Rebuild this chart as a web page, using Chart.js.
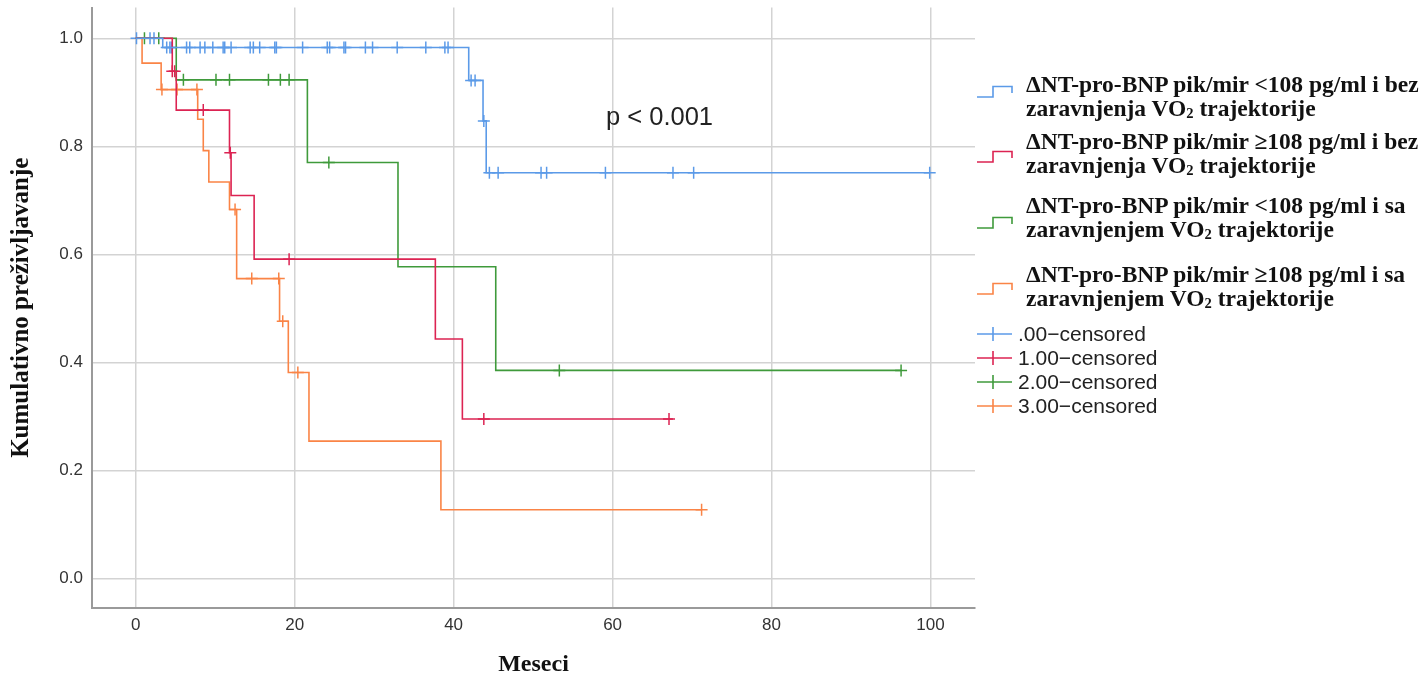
<!DOCTYPE html>
<html>
<head>
<meta charset="utf-8">
<script src="https://cdn.jsdelivr.net/npm/chart.js@4.4.0/dist/chart.umd.min.js"></script>
<style>
body { margin: 0; background: #fff; }
#wrap { position: relative; width: 1421px; height: 679px; }
.lg { position: absolute; left: 1026px; font-family: "Liberation Serif", "Times New Roman", serif; font-weight: bold; font-size: 23.5px; line-height: 24px; color: #111; white-space: nowrap; }
.cs { position: absolute; left: 1018px; font-family: "Liberation Sans", Arial, sans-serif; font-size: 21px; line-height: 24px; color: #222; white-space: nowrap; }
.ic { position: absolute; left: 976px; }
.sub { font-size: 0.62em; position: relative; top: 0.15em; }
#pval { position: absolute; left: 606px; top: 102px; font-family: "Liberation Sans", Arial, sans-serif; font-size: 25.5px; color: #222; }
</style>
</head>
<body>
<div id="wrap">
  <canvas id="kmChart"></canvas>
  <div id="pval">p &lt; 0.001</div>
  <div id="legend"></div>
</div>
<script>
// grupe i boje
var groupNames = [
    ['ΔNT-pro-BNP pik/mir <108 pg/ml i bez', 'zaravnjenja VO2 trajektorije'],
    ['ΔNT-pro-BNP pik/mir ≥108 pg/ml i bez', 'zaravnjenja VO2 trajektorije'],
    ['ΔNT-pro-BNP pik/mir <108 pg/ml i sa', 'zaravnjenjem VO2 trajektorije'],
    ['ΔNT-pro-BNP pik/mir ≥108 pg/ml i sa', 'zaravnjenjem VO2 trajektorije']
];
var censorNames = ['.00\u2212censored', '1.00\u2212censored', '2.00\u2212censored', '3.00\u2212censored'];
var colors = ['#5b9ae8', '#dc2352', '#3f9a3b', '#fa8446'];

// vremena dogadjaja (meseci) i kumulativno prezivljavanje posle njih
var times0 = [0, 3.4, 41.9, 43.7, 44.1, 99.9];
var surv0  = [1.0, 0.983, 0.922, 0.847, 0.751, 0.751];
var times1 = [0, 4.6, 5.1, 11.8, 12.0, 14.9, 37.7, 41.1, 67.6];
var surv1  = [1.0, 0.939, 0.867, 0.788, 0.709, 0.591, 0.443, 0.295, 0.295];
var times2 = [0, 5.1, 21.6, 33.0, 45.3, 96.3];
var surv2  = [1.0, 0.923, 0.770, 0.577, 0.385, 0.385];
var times3 = [0, 0.8, 3.2, 7.8, 8.5, 9.2, 11.8, 12.7, 18.1, 19.2, 21.8, 38.4, 71.2];
var surv3  = [1.0, 0.954, 0.905, 0.850, 0.792, 0.734, 0.683, 0.555, 0.476, 0.381, 0.254, 0.127, 0.127];

// cenzurisani
var cens0 = [0.1, 1.8, 2.3, 3.9, 4.3, 4.5, 6.4, 6.8, 8.1, 8.7, 9.7, 11.0, 11.2, 12.0, 14.4, 14.8, 15.6,
             17.5, 17.7, 21.0, 24.1, 24.4, 26.2, 26.4, 28.9, 29.8, 32.9, 36.5, 38.9, 39.3,
             42.2, 42.7, 43.8, 44.5, 45.6, 51.0, 51.7, 59.1, 67.6, 70.2, 99.9];
var cens1 = [4.6, 4.9, 8.5, 11.9, 19.3, 43.8, 67.1];
var cens2 = [1.1, 2.9, 6.0, 10.1, 11.8, 16.7, 18.2, 19.3, 24.3, 53.3, 96.3];
var cens3 = [3.3, 5.2, 7.7, 12.5, 14.6, 18.0, 18.5, 20.4, 71.2];

var xTicks = [0, 20, 40, 60, 80, 100];
var yTicks = [0, 0.2, 0.4, 0.6, 0.8, 1.0];

var allTimes = [times0, times1, times2, times3];
var allSurv = [surv0, surv1, surv2, surv3];
var allCens = [cens0, cens1, cens2, cens3];

function survAt(times, surv, t) {
    var s = surv[0];
    for (var i = 0; i < times.length; i++) {
        if (times[i] <= t) s = surv[i];
    }
    return s;
}

var datasets = [];
for (var g = 0; g < 4; g++) {
    datasets.push({
        type: 'line',
        data: allTimes[g].map(function (t, i) { return { x: t, y: allSurv[g][i] }; }),
        borderColor: colors[g],
        borderWidth: 1.6,
        stepped: true,
        pointRadius: 0,
        fill: false
    });
}
for (var g = 0; g < 4; g++) {
    (function (g) {
        datasets.push({
            type: 'scatter',
            data: allCens[g].map(function (t) { return { x: t, y: survAt(allTimes[g], allSurv[g], t) }; }),
            borderColor: colors[g],
            backgroundColor: colors[g],
            pointStyle: 'cross',
            pointRadius: 6,
            pointBorderWidth: 1.5,
            showLine: false
        });
    })(g);
}

var ctx = document.getElementById('kmChart').getContext('2d');
var myChart = new Chart(ctx, {
    data: { datasets: datasets },
    options: {
        responsive: true,
        maintainAspectRatio: false,
        animation: false,
        layout: { padding: { top: 6, right: 446, bottom: 0, left: 0 } },
        plugins: { legend: { display: false }, tooltip: { enabled: false } },
        scales: {
            x: {
                type: 'linear',
                min: -5.5,
                max: 105.6,
                afterBuildTicks: function (s) { s.ticks = xTicks.map(function (v) { return { value: v }; }); },
                afterFit: function (s) { s.height = 71; s.paddingLeft = 0; s.paddingRight = 0; },
                grid: { color: '#d3d3d3', lineWidth: 1.5, drawTicks: false },
                border: { color: '#9a9a9a', width: 2 },
                ticks: { padding: 7, color: '#333', font: { family: 'Liberation Sans', size: 17 } },
                title: {
                    display: true, text: 'Meseci', color: '#111',
                    font: { family: 'Liberation Serif', weight: 'bold', size: 24 },
                    padding: { top: 0, bottom: 0 }
                }
            },
            y: {
                type: 'linear',
                min: -0.055,
                max: 1.057,
                afterBuildTicks: function (s) { s.ticks = yTicks.map(function (v) { return { value: v }; }); },
                afterFit: function (s) { s.width = 92; s.paddingTop = 0; s.paddingBottom = 0; },
                grid: { color: '#d3d3d3', lineWidth: 1.5, drawTicks: false },
                border: { color: '#9a9a9a', width: 2 },
                ticks: {
                    padding: 9, color: '#333', font: { family: 'Liberation Sans', size: 17 },
                    callback: function (v) { return Number(v).toFixed(1); }
                },
                title: {
                    display: true, text: 'Kumulativno preživljavanje', color: '#111',
                    font: { family: 'Liberation Serif', weight: 'bold', size: 25 },
                    padding: { top: 7, bottom: 0 }
                }
            }
        }
    }
});

// legenda (HTML)
var legend = document.getElementById('legend');
var itemTops = [72, 129, 193, 262];
var iconTops = [85, 150, 216, 282];
function fmt(s) { return s.replace('<', '&lt;').replace('VO2', 'VO<span class="sub">2</span>'); }
for (var g = 0; g < 4; g++) {
    var d = document.createElement('div');
    d.className = 'lg';
    d.style.top = itemTops[g] + 'px';
    d.innerHTML = fmt(groupNames[g][0]) + '<br>' + fmt(groupNames[g][1]);
    legend.appendChild(d);
    var ic = document.createElement('div');
    ic.className = 'ic';
    ic.style.top = iconTops[g] + 'px';
    ic.innerHTML = '<svg width="38" height="14"><polyline points="1,12 17,12 17,1.5 36,1.5 36,8" fill="none" stroke="' +
        colors[g] + '" stroke-width="1.6"/></svg>';
    legend.appendChild(ic);
}
var censTops = [322, 346, 370, 394];
for (var g = 0; g < 4; g++) {
    var c = document.createElement('div');
    c.className = 'cs';
    c.style.top = censTops[g] + 'px';
    c.textContent = censorNames[g];
    legend.appendChild(c);
    var ci = document.createElement('div');
    ci.className = 'ic';
    ci.style.top = (censTops[g] + 4) + 'px';
    ci.innerHTML = '<svg width="38" height="16"><line x1="1" y1="8" x2="36" y2="8" stroke="' + colors[g] +
        '" stroke-width="1.6"/><line x1="17" y1="1" x2="17" y2="15" stroke="' + colors[g] + '" stroke-width="1.6"/></svg>';
    legend.appendChild(ci);
}
</script>
</body>
</html>
